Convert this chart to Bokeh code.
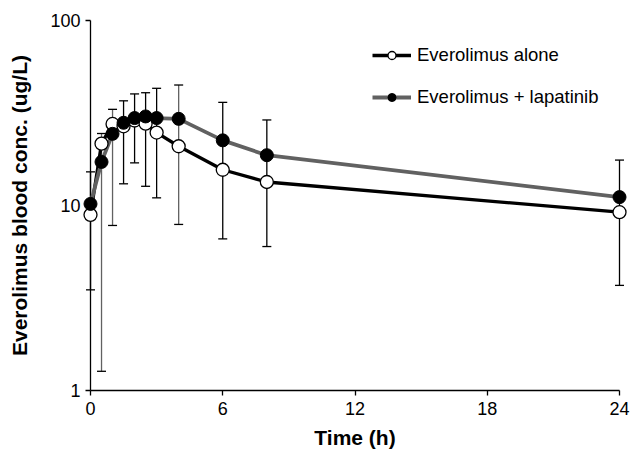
from bokeh.plotting import figure
from bokeh.models import Range1d, FixedTicker, Legend, LegendItem
from bokeh.embed import file_html
from bokeh.resources import INLINE

# ---- data ----
times = [0, 0.5, 1, 1.5, 2, 2.5, 3, 4, 6, 8, 24]
alone = [8.9, 21.6, 27.6, 26.8, 28.8, 27.7, 24.8, 20.9, 15.6, 13.4, 9.2]
lapatinib = [10.2, 17.2, 24.4, 28.0, 29.7, 30.3, 29.7, 29.4, 22.5, 18.7, 11.1]
err_low = [3.5, 1.27, 7.8, 13.1, 17.0, 12.7, 11.0, 7.9, 6.6, 6.0, 3.7]
err_high = [15.2, 24.5, 33.1, 36.8, 40.1, 40.7, 43.0, 44.8, 36.1, 29.0, 17.6]
x_ticks = [0, 6, 12, 18, 24]
y_ticks = [1, 10, 100]
y_tick_labels = ["1", "10", "100"]
series_names = ["Everolimus alone", "Everolimus + lapatinib"]
x_title = "Time (h)"
y_title = "Everolimus blood conc. (ug/L)"

GRAY = "#616161"
FONT = "Liberation Sans"
bar_colors = ["black", GRAY, GRAY, "black", "black", "black", "black", GRAY,
              "black", "black", "black"]

p = figure(width=632, height=453, x_range=Range1d(0, 24), y_range=Range1d(1, 100),
           y_axis_type="log", output_backend="svg", toolbar_location=None,
           min_border_left=90, min_border_right=13, min_border_top=20,
           min_border_bottom=63)
p.outline_line_color = None
p.grid.visible = False

p.xaxis.ticker = FixedTicker(ticks=x_ticks, minor_ticks=[])
p.yaxis.ticker = FixedTicker(ticks=y_ticks, minor_ticks=[])
p.yaxis.major_label_overrides = {t: l for t, l in zip(y_ticks, y_tick_labels)}
p.xaxis.axis_label = x_title
p.yaxis.axis_label = y_title

for ax in (p.xaxis[0], p.yaxis[0]):
    ax.axis_line_color = "black"
    ax.axis_line_width = 1.3
    ax.major_tick_line_color = "black"
    ax.major_tick_line_width = 1.3
    ax.major_tick_in = 0
    ax.major_tick_out = 5
    ax.minor_tick_line_color = None
    ax.major_label_text_font = FONT
    ax.major_label_text_font_size = "18px"
    ax.major_label_text_color = "black"
    ax.axis_label_text_font = FONT
    ax.axis_label_text_font_style = "bold"
    ax.axis_label_text_font_size = "21px"
    ax.axis_label_text_color = "black"
    ax.axis_label_text_line_height = 1.0

p.xaxis.major_label_standoff = 6
p.xaxis.axis_label_standoff = 8
p.yaxis.major_label_standoff = 5
p.yaxis.axis_label_standoff = 16

# error bars
p.segment(x0=times, y0=err_low, x1=times, y1=err_high, line_color=bar_colors,
          line_width=1.3, level="overlay")
p.scatter(times, err_low, marker="dash", size=9, line_color="black",
          line_width=1.3, level="overlay")
p.scatter(times, err_high, marker="dash", size=9, line_color="black",
          line_width=1.3, level="overlay")

# series
l1 = p.line(times, alone, line_color="black", line_width=3.3, level="overlay")
l2 = p.line(times, lapatinib, line_color=GRAY, line_width=3.8, level="overlay")
m1 = p.scatter(times, alone, size=13, fill_color="white", line_color="black",
               line_width=1.3, level="overlay")
m2 = p.scatter(times, lapatinib, size=13, fill_color="black", line_color="black",
               line_width=1.0, level="overlay")

legend = Legend(items=[LegendItem(label=series_names[0], renderers=[l1, m1]),
                       LegendItem(label=series_names[1], renderers=[l2, m2])],
                location=(282, 282), glyph_width=39, glyph_height=20,
                label_height=20, label_standoff=6, spacing=20, padding=0,
                margin=0, border_line_color=None, background_fill_alpha=0,
                label_text_font=FONT, label_text_font_size="18.5px",
                label_text_color="black")
p.add_layout(legend)

open("out.html", "w").write(file_html(p, INLINE))
